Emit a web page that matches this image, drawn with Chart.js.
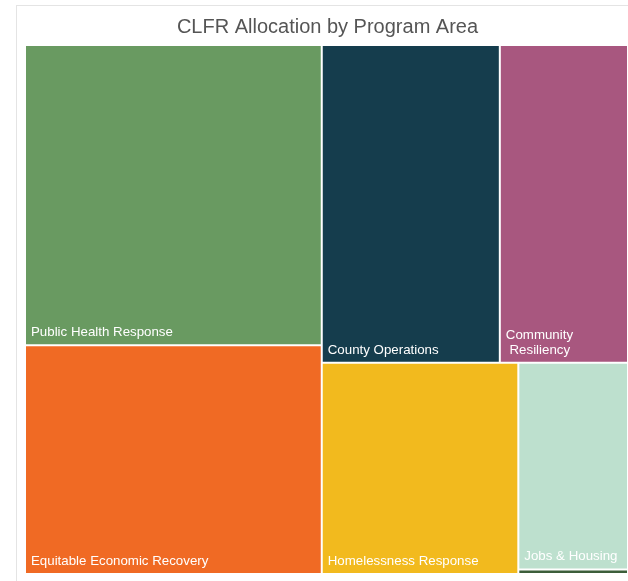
<!DOCTYPE html>
<html>
<head>
<meta charset="utf-8">
<script src="https://cdn.jsdelivr.net/npm/chart.js@4.4.1/dist/chart.umd.min.js"></script>
<style>
  html, body { margin: 0; padding: 0; background: #fff; }
  body { position: relative; width: 628px; height: 581px; overflow: hidden; }
  #frame {
    position: absolute; left: 16px; top: 5px; width: 630px; height: 600px;
    border-left: 1px solid #e4e4e4; border-top: 1px solid #e4e4e4;
  }
  #chart { position: absolute; left: 0; top: 0; }
</style>
</head>
<body>
<div id="frame"></div>
<canvas id="chart" width="628" height="581"></canvas>
<script>
const programAreas = [
    "Public Health Response",
    "Equitable Economic Recovery",
    "County Operations",
    "Community Resiliency",
    "Homelessness Response",
    "Jobs & Housing",
    "Administration"
];
// allocation, $M
const allocations = [88.8, 67.7, 56.4, 40.6, 41.4, 22.6, 0.5];
const areaColors = ['#699a61', '#f06a24', '#153d4d', '#a8577f', '#f2ba1e', '#bde0ce', '#3c5e3a'];
// how the tiles nest: columns -> rows -> columns ...
const tileGroups = [[0, 1], [[2, 3], [4, [5, 6]]]];

function groupSum(node, values) {
    return Array.isArray(node) ? node.reduce((s, n) => s + groupSum(n, values), 0) : values[node];
}

// slice and dice: each level splits its box by the share of the value
function sliceDice(node, box, splitX, values, out) {
    if (!Array.isArray(node)) {
        out[node] = box;
        return;
    }
    const total = groupSum(node, values);
    let pos = splitX ? box.x0 : box.y0;
    node.forEach(child => {
        const span = (splitX ? box.x1 - box.x0 : box.y1 - box.y0) * groupSum(child, values) / total;
        const childBox = splitX
            ? { x0: pos, x1: pos + span, y0: box.y0, y1: box.y1 }
            : { x0: box.x0, x1: box.x1, y0: pos, y1: pos + span };
        sliceDice(child, childBox, !splitX, values, out);
        pos += span;
    });
}

class TreemapController extends Chart.DatasetController {
    update(mode) {
        const meta = this._cachedMeta;
        this.updateElements(meta.data, 0, meta.data.length, mode);
    }

    updateElements(rects, start, count, mode) {
        const { xScale, yScale } = this._cachedMeta;
        const dataset = this.getDataset();
        const boxes = [];
        sliceDice(dataset.groups, { x0: 0, y0: 0, x1: 1, y1: 1 }, true, dataset.data, boxes);
        for (let i = start; i < start + count; i++) {
            const b = boxes[i];
            const left = xScale.getPixelForValue(b.x0);
            const right = xScale.getPixelForValue(b.x1);
            const top = yScale.getPixelForValue(b.y0);
            const bottom = yScale.getPixelForValue(b.y1);
            this.updateElement(rects[i], i, {
                x: (left + right) / 2,
                y: top,
                base: bottom,
                width: right - left,
                height: bottom - top,
                horizontal: false,
                borderSkipped: {},
                inflateAmount: 0,
                options: this.resolveDataElementOptions(i, mode)
            }, mode);
        }
    }

    draw() {
        super.draw();
        const ctx = this.chart.ctx;
        const labels = this.chart.data.labels;
        ctx.save();
        ctx.fillStyle = '#ffffff';
        ctx.font = '13.3px "Liberation Sans", Arial, sans-serif';
        ctx.textBaseline = 'alphabetic';
        this._cachedMeta.data.forEach((rect, i) => {
            const { x, y, base, width } = rect;
            if (Math.abs(base - y) < 24) return;
            const left = x - width / 2;
            const bottom = Math.max(y, base);
            // wrap like Tableau does, keeping the space at the start of the next line
            const words = labels[i].split(' ');
            const lines = [];
            let cur = words[0];
            words.slice(1).forEach(w => {
                if (ctx.measureText(cur + ' ' + w).width <= width - 12) {
                    cur += ' ' + w;
                } else {
                    lines.push(cur);
                    cur = ' ' + w;
                }
            });
            lines.push(cur);
            lines.forEach((line, k) => {
                ctx.fillText(line, left + 6, bottom - 9 - (lines.length - 1 - k) * 15);
            });
        });
        ctx.restore();
    }
}
TreemapController.id = 'treemapLite';
TreemapController.defaults = { datasetElementType: false, dataElementType: 'bar' };
Chart.register(TreemapController);

Chart.defaults.font.family = '"Liberation Sans", Arial, sans-serif';

new Chart(document.getElementById('chart'), {
    type: 'treemapLite',
    data: {
        labels: programAreas,
        datasets: [{
            data: allocations,
            groups: tileGroups,
            parsing: false,
            backgroundColor: areaColors,
            borderColor: '#ffffff',
            borderWidth: 1
        }]
    },
    options: {
        responsive: false,
        animation: false,
        events: [],
        layout: { padding: { left: 25, top: 5, right: -2, bottom: 7 } },
        scales: {
            x: { type: 'linear', min: 0, max: 1, display: false },
            y: { type: 'linear', min: 0, max: 1, reverse: true, display: false }
        },
        plugins: {
            legend: { display: false },
            tooltip: { enabled: false },
            title: {
                display: true,
                text: 'CLFR Allocation by Program Area',
                color: '#555555',
                font: { size: 20, weight: 'normal' },
                padding: { top: 10, bottom: 6 }
            }
        }
    }
});
</script>
</body>
</html>
